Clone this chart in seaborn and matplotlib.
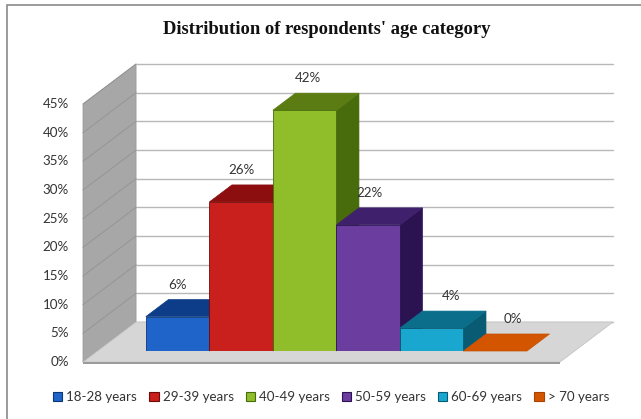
import matplotlib
matplotlib.use("Agg")
import matplotlib.pyplot as plt
import seaborn as sns
import pandas as pd
from matplotlib.patches import Polygon, Patch, Rectangle

# ---------------- data ----------------
categories = ["18-28 years", "29-39 years", "40-49 years",
              "50-59 years", "60-69 years", "> 70 years"]
values = [6, 26, 42, 22, 4, 0]
value_labels = ["6%", "26%", "42%", "22%", "4%", "0%"]
tick_values = [0, 5, 10, 15, 20, 25, 30, 35, 40, 45]
tick_labels = ["0%", "5%", "10%", "15%", "20%", "25%", "30%", "35%", "40%", "45%"]
title = "Distribution of respondents' age category"

# ---------------- style ----------------
front_colors = ["#1f65c9", "#c9201d", "#8fbe2a", "#6b3d9f", "#19a7d0", "#d45500"]
top_colors = ["#0d3d88", "#8c0e0e", "#5a7c12", "#3f206c", "#0b6e8a", "#c45000"]
side_colors = ["#0a3577", "#700a0a", "#486b0c", "#2b1352", "#085b73", "#a84300"]
label_dx = [0.0, 0.0, 0.05, 0.02, 0.3, 0.28]
fs = 9.6

sns.set_style("white")
plt.rcParams["font.family"] = ["Lato", "DejaVu Sans"]

fig = plt.figure(figsize=(6.41, 4.19), dpi=100)
ax = fig.add_axes([97.6 / 641, (419 - 351) / 419, 477 / 641, 258 / 419])

df = pd.DataFrame({"cat": categories, "val": values})
sns.barplot(data=df, x="cat", y="val", hue="cat", palette=front_colors,
            width=1.0, saturation=1, legend=False, ax=ax,
            edgecolor="none", linewidth=0)
bars = sorted([p for p in ax.patches if isinstance(p, Rectangle)],
              key=lambda p: p.get_x())[:len(values)]

xL, xR = -1.26, 6.25
ymax = 45
ax.set_xlim(xL, xR)
ax.set_ylim(0, ymax)
ax.axis("off")

# depth vector in data units (cat, %)
Dx, Dy = 53 / 63.5, 40 / 5.733
dF, dB = -0.275, 0.725   # floor front / back wall depth
bd = 0.425               # bar depth

def P(x, y, d):
    return (x + d * Dx, y + d * Dy)

# back wall
ax.add_patch(Polygon([P(xL, 0, dB), P(xR, 0, dB), P(xR, ymax, dB), P(xL, ymax, dB)],
                     closed=True, facecolor="white", edgecolor="none",
                     zorder=0.4, clip_on=False))
# left wall
ax.add_patch(Polygon([P(xL, 0, dF), P(xL, ymax, dF), P(xL, ymax, dB), P(xL, 0, dB)],
                     closed=True, facecolor="#a7a7a7", edgecolor="#9a9a9a", lw=0.6,
                     zorder=0.5, clip_on=False))
# gridlines
for t in tick_values:
    x0, y0 = P(xL, t, dB)
    x1, y1 = P(xR, t, dB)
    ax.plot([x0, x1], [y0, y1], color="#b8b8b8", lw=1.0, zorder=0.6, clip_on=False)
    xa, ya = P(xL, t, dF)
    ax.plot([xa, x0], [ya, y0], color="#959595", lw=0.7, zorder=0.6, clip_on=False)
# floor
ax.add_patch(Polygon([P(xL, 0, dF), P(xR, 0, dF), P(xR, 0, dB), P(xL, 0, dB)],
                     closed=True, facecolor="#d6d6d6", edgecolor="#c4c4c4", lw=0.6,
                     zorder=0.7, clip_on=False))
fx0, fy0 = P(xL, 0, dF)
fx1, fy1 = P(xR, 0, dF)
ax.add_patch(Polygon([(fx0, fy0), (fx1, fy1), (fx1, fy1 - 0.4), (fx0, fy0 - 0.4)],
                     closed=True, facecolor="#9c9c9c", edgecolor="none",
                     zorder=0.75, clip_on=False))

# bars: 3D faces
for i, bar in enumerate(bars):
    x0 = bar.get_x()
    x1 = x0 + bar.get_width()
    h = bar.get_height()
    bar.set_zorder(3 + 2 * i)
    bar.set_edgecolor(side_colors[i])
    bar.set_linewidth(0.6)
    if h > 0:
        ax.add_patch(Polygon([P(x1, 0, 0), P(x1, h, 0), P(x1, h, bd), P(x1, 0, bd)],
                             closed=True, facecolor=side_colors[i],
                             edgecolor=side_colors[i], lw=0.5,
                             zorder=2 + 2 * i, clip_on=False))
    else:
        bar.set_visible(False)
    ax.add_patch(Polygon([P(x0, h, 0), P(x1, h, 0), P(x1, h, bd), P(x0, h, bd)],
                         closed=True, facecolor=top_colors[i] if h > 0 else front_colors[i],
                         edgecolor=top_colors[i], lw=0.5,
                         zorder=2 + 2 * i, clip_on=False))
    cx = (x0 + x1) / 2 + label_dx[i]
    ax.text(cx, h + bd * Dy + 2.6, value_labels[i], ha="center", va="center",
            fontsize=fs, color="#333333", zorder=50, clip_on=False)

# axis tick labels on the front edge of the left wall
for t, lab in zip(tick_values, tick_labels):
    x, y = P(xL, t, dF)
    ax.text(x - 0.22, y, lab, ha="right", va="center", fontsize=fs,
            color="#333333", clip_on=False)

# title
fig.text(327 / 641, 1 - 30 / 419, title, ha="center", va="center",
         fontsize=13.4, fontweight="bold", family=["Liberation Serif", "DejaVu Serif"],
         color="#111111")

# legend
handles = [Patch(facecolor=front_colors[i], edgecolor=side_colors[i], linewidth=0.8)
           for i in range(len(categories))]
fig.legend(handles, categories, loc="center", bbox_to_anchor=(331 / 641, 22 / 419),
           ncol=6, frameon=False, fontsize=fs, handlelength=0.7, handleheight=0.7,
           handletextpad=0.3, columnspacing=0.9, labelcolor="#333333")

# outer frame
fig.add_artist(Rectangle((7 / 641, -0.05), 1.0, (419 - 5) / 419 + 0.05,
                         transform=fig.transFigure, fill=False,
                         edgecolor="#8a8a8a", lw=1.2))

fig.savefig("out.png", dpi=100)
